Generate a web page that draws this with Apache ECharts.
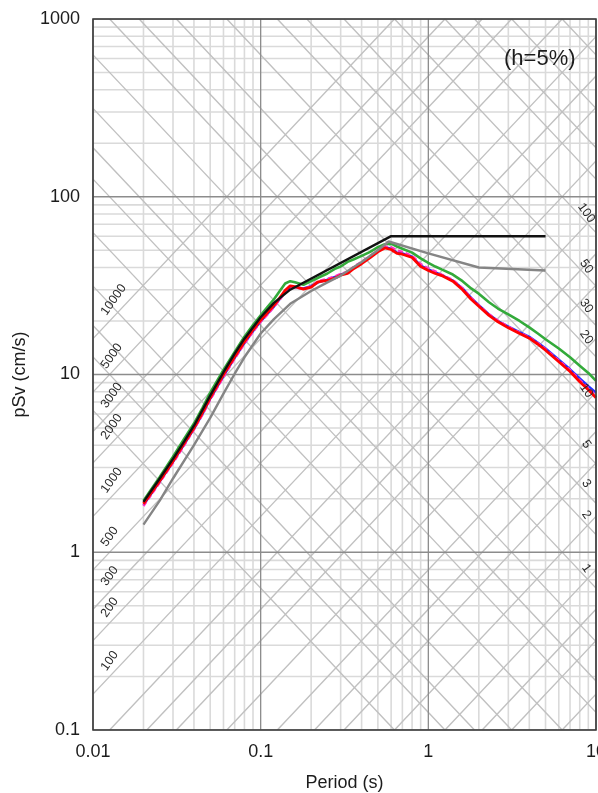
<!DOCTYPE html>
<html>
<head>
<meta charset="utf-8">
<script src="https://cdn.jsdelivr.net/npm/echarts@6/dist/echarts.min.js"></script>
<style>
  html, body { margin: 0; padding: 0; background: #ffffff; }
  #chart { width: 598px; height: 793px; }
</style>
</head>
<body>
<div id="chart"></div>
<script>
// ---- Axis ranges and tick values ----
const X_MIN = 0.01, X_MAX = 10;     // period (s)
const Y_MIN = 0.1, Y_MAX = 1000;    // pseudo velocity (cm/s)
const xTicks = [0.01, 0.1, 1, 10];
const yTicks = [0.1, 1, 10, 100, 1000];

// ---- Tripartite reference lines ----
// constant pseudo-acceleration (gal) and constant displacement (cm)
const accelValues = [0.1, 0.2, 0.3, 0.5, 1, 2, 3, 5, 10, 20, 30, 50, 100, 200, 300, 500, 1000, 2000, 3000, 5000, 10000];
const dispValues = [0.01, 0.02, 0.03, 0.05, 0.1, 0.2, 0.3, 0.5, 1, 2, 3, 5, 10, 20, 30, 50, 100, 200, 300, 500, 1000];
const accelLabels = [100, 200, 300, 500, 1000, 2000, 3000, 5000, 10000];
const dispLabels = [1, 2, 3, 5, 10, 20, 30, 50, 100];

// ---- Recorded response spectra (h = 5%) ----
const periods = [0.02, 0.025, 0.03, 0.035, 0.04, 0.045, 0.05, 0.06, 0.07, 0.08, 0.09, 0.1,
  0.11, 0.12, 0.13, 0.14, 0.15, 0.16, 0.18, 0.2, 0.22, 0.25, 0.28, 0.3, 0.33, 0.36, 0.4,
  0.45, 0.5, 0.55, 0.6, 0.65, 0.7, 0.8, 0.9, 1.0, 1.1, 1.2, 1.4, 1.6, 1.8, 2.0, 2.3, 2.6,
  3.0, 3.5, 4.0, 4.5, 5.0, 6.0, 7.0, 8.0, 9.0, 10];
const svRed = [1.87, 2.52, 3.25, 4.1, 5.0, 6.1, 7.4, 10.0, 12.6, 15.3, 17.8, 20.2,
  22.3, 24.5, 27.0, 29.8, 31.5, 31.2, 30.2, 31.0, 33.2, 33.8, 35.0, 36.2, 37.0, 39.5, 42.0,
  45.5, 49.0, 51.5, 50.5, 48.0, 47.5, 45.5, 40.5, 38.5, 37.0, 36.0, 33.5, 30.0, 26.5, 24.2, 21.5, 19.8,
  18.3, 17.0, 16.0, 14.8, 13.7, 11.8, 10.4, 9.1, 8.2, 7.4];
const svBlue = [1.84, 2.50, 3.22, 4.05, 4.95, 6.0, 7.3, 9.8, 12.4, 15.0, 17.5, 19.9,
  22.0, 24.1, 26.6, 29.2, 31.0, 31.0, 30.5, 31.4, 33.0, 34.2, 35.5, 36.5, 37.5, 40.0, 42.5,
  46.0, 49.5, 52.0, 51.0, 48.5, 48.0, 46.0, 41.0, 39.0, 37.5, 36.3, 33.8, 30.5, 27.0, 24.6, 21.8, 20.0,
  18.6, 17.3, 16.3, 15.1, 14.0, 12.1, 10.7, 9.5, 8.6, 7.9];
const svMagenta = [1.82, 2.47, 3.18, 4.0, 4.9, 5.95, 7.2, 9.7, 12.3, 14.9, 17.4, 19.8,
  21.8, 24.0, 26.4, 29.0, 30.8, 30.7, 30.4, 31.2, 33.5, 34.5, 35.8, 36.8, 37.8, 40.5, 43.0,
  46.5, 50.0, 52.5, 52.0, 50.0, 49.0, 46.5, 41.8, 39.5, 38.0, 36.5, 34.0, 30.5, 27.0, 24.5, 21.8, 20.1,
  18.6, 17.2, 16.2, 15.0, 13.9, 12.0, 10.6, 9.3, 8.4, 7.6];
const svGreen = [1.95, 2.65, 3.45, 4.35, 5.3, 6.5, 7.9, 10.6, 13.4, 16.3, 19.0, 21.5,
  24.0, 26.5, 29.5, 32.5, 33.5, 33.0, 32.0, 33.5, 35.0, 37.0, 39.5, 40.5, 43.0, 44.5, 46.5,
  49.0, 52.0, 54.0, 54.5, 52.5, 51.0, 48.5, 45.0, 42.5, 40.5, 39.0, 36.5, 33.5, 30.5, 28.5, 25.5, 23.5,
  21.8, 20.0, 18.4, 17.0, 15.8, 14.0, 12.5, 11.2, 10.2, 9.2];

// ---- Design spectra ----
const blackT = [0.02, 0.025, 0.03, 0.035, 0.04, 0.05, 0.06, 0.07, 0.08, 0.1, 0.12, 0.15, 0.6, 5];
const blackSv = [1.92, 2.6, 3.35, 4.2, 5.15, 7.6, 10.3, 13.1, 15.9, 21.0, 25.3, 30.0, 60, 60];
const grayT = [0.02, 0.025, 0.03, 0.04, 0.05, 0.06, 0.07, 0.08, 0.1, 0.12, 0.15, 0.2, 0.25, 0.3, 0.4, 0.5, 0.58, 1, 2, 5];
const graySv = [1.43, 1.95, 2.6, 4.0, 5.7, 7.8, 10.1, 12.5, 17.0, 20.5, 25.0, 29.5, 33.0, 36.0, 43.0, 50.0, 56.0, 48.0, 40.0, 38.5];

const FONT = '"Liberation Sans", Arial, sans-serif';
const TEXT_COLOR = '#1c1c1c';
const TWO_PI = 2 * Math.PI;

const zip = (xs, ys) => xs.map((x, i) => [x, ys[i]]);

function refLine(points, color, width, z) {
  return {
    type: 'line', data: points, symbol: 'none', silent: true, animation: false,
    clip: true, z: z, lineStyle: { color: color, width: width }
  };
}

const series = [];

// minor and major grid lines for every decade
const decadesX = [0.01, 0.1, 1];
const decadesY = [0.1, 1, 10, 100];
[2, 3, 4, 5, 6, 7, 8, 9].forEach(m => {
  decadesX.forEach(d => series.push(refLine([[m * d, Y_MIN], [m * d, Y_MAX]], '#dadada', 1.6, 1)));
  decadesY.forEach(d => series.push(refLine([[X_MIN, m * d], [X_MAX, m * d]], '#dadada', 1.6, 1)));
});

// constant acceleration lines: Sv = Sa * T / 2pi
accelValues.forEach(sa => {
  const t1 = Math.max(X_MIN, TWO_PI * Y_MIN / sa);
  const t2 = Math.min(X_MAX, TWO_PI * Y_MAX / sa);
  if (t1 < t2) series.push(refLine([[t1, sa * t1 / TWO_PI], [t2, sa * t2 / TWO_PI]], '#c0c0c0', 1.4, 2));
});
// constant displacement lines: Sv = 2pi * Sd / T
dispValues.forEach(sd => {
  const t1 = Math.max(X_MIN, TWO_PI * sd / Y_MAX);
  const t2 = Math.min(X_MAX, TWO_PI * sd / Y_MIN);
  if (t1 < t2) series.push(refLine([[t1, TWO_PI * sd / t1], [t2, TWO_PI * sd / t2]], '#c0c0c0', 1.4, 2));
});

// decade lines
xTicks.forEach(t => series.push(refLine([[t, Y_MIN], [t, Y_MAX]], '#8c8c8c', 1.3, 3)));
yTicks.forEach(v => series.push(refLine([[X_MIN, v], [X_MAX, v]], '#8c8c8c', 1.3, 3)));

function dataLine(name, points, color, width, type, z) {
  return {
    name: name, type: 'line', data: points, symbol: 'none', animation: false,
    clip: true, z: z, lineStyle: { color: color, width: width, type: type || 'solid' }
  };
}
series.push(dataLine('green', zip(periods, svGreen), '#33aa3a', 2.6, 'solid', 5));
series.push(dataLine('blue', zip(periods, svBlue), '#2030ff', 2.4, 'solid', 5));
series.push(dataLine('magenta', zip(periods, svMagenta), '#ff30c8', 2.4, [5, 3], 5));
series.push(dataLine('red', zip(periods, svRed), '#ff0000', 2.8, 'solid', 5));
series.push(dataLine('gray', zip(grayT, graySv), '#858585', 2.4, 'solid', 6));
series.push(dataLine('black', zip(blackT, blackSv), '#111111', 2.4, 'solid', 6));

const fmt = v => String(parseFloat(Number(v).toPrecision(6)));

const chart = echarts.init(document.getElementById('chart'), null, { renderer: 'canvas' });
chart.setOption({
  animation: false,
  backgroundColor: '#ffffff',
  grid: { left: 93, right: 2, top: 19, bottom: 63, containLabel: false, outerBoundsMode: 'none' },
  xAxis: {
    type: 'log', logBase: 10, min: X_MIN, max: X_MAX,
    name: 'Period (s)', nameLocation: 'middle', nameGap: 44,
    nameTextStyle: { color: TEXT_COLOR, fontSize: 18, fontFamily: FONT },
    axisLine: { show: false }, axisTick: { show: false }, splitLine: { show: false },
    axisLabel: { formatter: fmt, margin: 13, color: TEXT_COLOR, fontSize: 18, fontFamily: FONT }
  },
  yAxis: {
    type: 'log', logBase: 10, min: Y_MIN, max: Y_MAX,
    name: 'pSv (cm/s)', nameLocation: 'middle', nameGap: 50, nameRotate: 90,
    nameTextStyle: { color: TEXT_COLOR, fontSize: 18, fontFamily: FONT },
    axisLine: { show: false }, axisTick: { show: false }, splitLine: { show: false },
    axisLabel: { formatter: fmt, margin: 13, color: TEXT_COLOR, fontSize: 18, fontFamily: FONT }
  },
  series: series
});

// ---- annotations placed through the axis scales ----
const toPx = p => chart.convertToPixel({ gridIndex: 0 }, p);
const fromPx = p => chart.convertFromPixel({ gridIndex: 0 }, p);

const c1 = toPx([X_MIN, Y_MIN]);
const c2 = toPx([X_MAX, Y_MAX]);
const slope = Math.atan2(c1[1] - c2[1], c2[0] - c1[0]);

const graphics = [];
// plot frame
graphics.push({
  type: 'rect', z: 100, silent: true,
  shape: { x: c1[0], y: c2[1], width: c2[0] - c1[0], height: c1[1] - c2[1] },
  style: { fill: 'none', stroke: '#3c3c3c', lineWidth: 1.6 }
});

const diagFont = '12.5px ' + FONT;
// acceleration labels along the left edge
const accelX = c1[0] + 16;
const tAccel = fromPx([accelX, 0])[0];
accelLabels.forEach(sa => {
  const p = toPx([tAccel, sa * tAccel / TWO_PI]);
  graphics.push({
    type: 'text', z: 50, silent: true, x: p[0], y: p[1] - 4, rotation: slope,
    style: { text: String(sa), font: diagFont, fill: '#2a2a2a',
      align: 'left', verticalAlign: 'bottom', textAlign: 'left', textVerticalAlign: 'bottom' }
  });
});
// displacement labels along the right edge
const dispX = c2[0] - 15;
const tDisp = fromPx([dispX, 0])[0];
dispLabels.forEach(sd => {
  const p = toPx([tDisp, TWO_PI * sd / tDisp]);
  graphics.push({
    type: 'text', z: 50, silent: true, x: p[0], y: p[1], rotation: -slope,
    style: { text: String(sd), font: diagFont, fill: '#2a2a2a',
      align: 'center', verticalAlign: 'bottom', textAlign: 'center', textVerticalAlign: 'bottom' }
  });
});
// damping note
graphics.push({
  type: 'text', z: 50, silent: true, x: 504, y: 59,
  style: { text: '(h=5%)', font: '22px ' + FONT, fill: TEXT_COLOR,
    align: 'left', verticalAlign: 'middle', textAlign: 'left', textVerticalAlign: 'middle' }
});

chart.setOption({ graphic: { elements: graphics } });
</script>
</body>
</html>
